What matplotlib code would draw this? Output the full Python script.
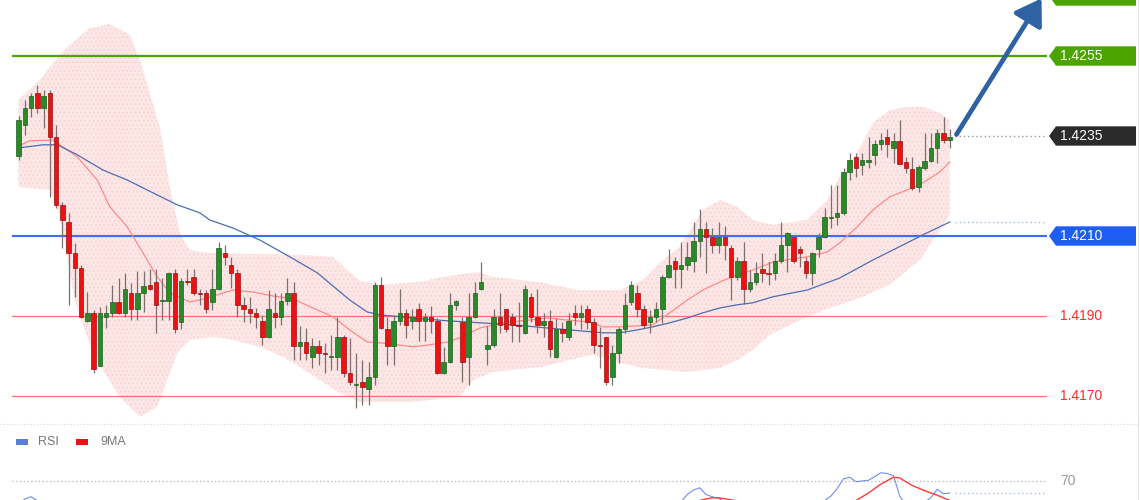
import numpy as np
import matplotlib
matplotlib.use('Agg')
import matplotlib.pyplot as plt
from matplotlib.patches import Rectangle, Polygon, FancyArrowPatch
import matplotlib.transforms as mtransforms

plt.rcParams['font.family'] = ['Liberation Sans', 'DejaVu Sans']

# ---------------- candle data ----------------
opens = [1.42300, 1.42378, 1.42420, 1.42458, 1.42420, 1.42458, 1.42348, 1.42178, 1.42135, 1.42058,
         1.42020, 1.41888, 1.41908, 1.41775, 1.41898, 1.41908, 1.41935, 1.41908, 1.41958, 1.41918,
         1.41958, 1.41978, 1.41985, 1.41938, 1.41938, 1.42008, 1.41885, 1.41988, 1.41998, 1.41958,
         1.41958, 1.41935, 1.41968, 1.42058, 1.42028, 1.42008, 1.41928, 1.41918, 1.41908, 1.41888,
         1.41848, 1.41908, 1.41898, 1.41938, 1.41958, 1.41825, 1.41835, 1.41798, 1.41825, 1.41808,
         1.41798, 1.41798, 1.41848, 1.41758, 1.41728, 1.41735, 1.41718, 1.41748, 1.41978, 1.41868,
         1.41825, 1.41888, 1.41908, 1.41888, 1.41918, 1.41888, 1.41898, 1.41888, 1.41758, 1.41785,
         1.41928, 1.41885, 1.41798, 1.41898, 1.41968, 1.41818, 1.41828, 1.41898, 1.41918, 1.41898,
         1.41878, 1.41858, 1.41948, 1.41898, 1.41878, 1.41888, 1.41798, 1.41868, 1.41848, 1.41908,
         1.41898, 1.41918, 1.41885, 1.41828, 1.41848, 1.41748, 1.41808, 1.41868, 1.41935, 1.41958,
         1.41918, 1.41885, 1.41898, 1.41918, 1.41998, 1.42038, 1.42018, 1.42028, 1.42038, 1.42088,
         1.42118, 1.42098, 1.42078, 1.42098, 1.42070, 1.41998, 1.42038, 1.41968, 1.41985, 1.42018,
         1.42008, 1.42008, 1.42038, 1.42078, 1.42098, 1.42068, 1.42038, 1.42008, 1.42068, 1.42098,
         1.42145, 1.42148, 1.42158, 1.42260, 1.42298, 1.42278, 1.42285, 1.42303, 1.42330, 1.42348,
         1.42320, 1.42338, 1.42285, 1.42268, 1.42223, 1.42270, 1.42288, 1.42320, 1.42358, 1.42340]
highs = [1.42400, 1.42440, 1.42458, 1.42478, 1.42465, 1.42465, 1.42378, 1.42185, 1.42158, 1.42083,
         1.42028, 1.41960, 1.41915, 1.41923, 1.41928, 1.41978, 1.41995, 1.42008, 1.41983, 1.42013,
         1.42013, 1.42018, 1.42018, 1.41995, 1.42010, 1.42018, 1.41995, 1.42018, 1.42018, 1.41968,
         1.41965, 1.42018, 1.42085, 1.42078, 1.42048, 1.42018, 1.41948, 1.41948, 1.41920, 1.41903,
         1.41965, 1.41958, 1.41958, 1.41995, 1.41985, 1.41875, 1.41870, 1.41845, 1.41840, 1.41833,
         1.41853, 1.41898, 1.41853, 1.41845, 1.41808, 1.41790, 1.41785, 1.41985, 1.41998, 1.41898,
         1.41903, 1.41968, 1.41918, 1.41918, 1.41933, 1.41908, 1.41925, 1.41895, 1.41823, 1.41958,
         1.41940, 1.41898, 1.41958, 1.41985, 1.42035, 1.41875, 1.41918, 1.41958, 1.41918, 1.41908,
         1.41935, 1.41978, 1.41958, 1.41968, 1.41908, 1.41915, 1.41895, 1.41885, 1.41908, 1.41928,
         1.41928, 1.41928, 1.41895, 1.41873, 1.41848, 1.41828, 1.41873, 1.41958, 1.41988, 1.41978,
         1.41928, 1.41915, 1.41935, 1.42003, 1.42068, 1.42048, 1.42085, 1.42085, 1.42135, 1.42168,
         1.42135, 1.42120, 1.42135, 1.42125, 1.42078, 1.42048, 1.42085, 1.42015, 1.42035, 1.42058,
         1.42035, 1.42058, 1.42135, 1.42110, 1.42100, 1.42075, 1.42048, 1.42060, 1.42108, 1.42170,
         1.42228, 1.42228, 1.42270, 1.42308, 1.42308, 1.42308, 1.42348, 1.42340, 1.42358, 1.42368,
         1.42358, 1.42390, 1.42298, 1.42298, 1.42278, 1.42358, 1.42358, 1.42368, 1.42398, 1.42368]
lows = [1.42290, 1.42353, 1.42398, 1.42408, 1.42370, 1.42198, 1.42170, 1.42070, 1.41928, 1.41948,
        1.41895, 1.41885, 1.41758, 1.41775, 1.41870, 1.41898, 1.41905, 1.41898, 1.41890, 1.41890,
        1.41910, 1.41965, 1.41858, 1.41890, 1.41890, 1.41858, 1.41868, 1.41978, 1.41953, 1.41928,
        1.41908, 1.41915, 1.41965, 1.42028, 1.41970, 1.41898, 1.41885, 1.41883, 1.41870, 1.41828,
        1.41845, 1.41870, 1.41878, 1.41928, 1.41790, 1.41790, 1.41790, 1.41770, 1.41778, 1.41758,
        1.41765, 1.41765, 1.41748, 1.41728, 1.41670, 1.41678, 1.41678, 1.41728, 1.41868, 1.41778,
        1.41778, 1.41878, 1.41845, 1.41868, 1.41838, 1.41838, 1.41858, 1.41755, 1.41755, 1.41783,
        1.41915, 1.41735, 1.41728, 1.41895, 1.41965, 1.41778, 1.41823, 1.41858, 1.41860, 1.41835,
        1.41835, 1.41855, 1.41885, 1.41858, 1.41848, 1.41798, 1.41795, 1.41835, 1.41840, 1.41878,
        1.41868, 1.41868, 1.41808, 1.41770, 1.41728, 1.41728, 1.41783, 1.41858, 1.41928, 1.41898,
        1.41870, 1.41858, 1.41885, 1.41883, 1.41995, 1.41970, 1.41970, 1.42015, 1.42010, 1.42048,
        1.42008, 1.42058, 1.42058, 1.42040, 1.41940, 1.41990, 1.41930, 1.41960, 1.41978, 1.41985,
        1.41978, 1.41990, 1.42033, 1.42010, 1.42033, 1.42023, 1.41995, 1.41978, 1.42048, 1.42095,
        1.42120, 1.42128, 1.42153, 1.42240, 1.42248, 1.42253, 1.42270, 1.42278, 1.42315, 1.42298,
        1.42283, 1.42280, 1.42258, 1.42215, 1.42210, 1.42265, 1.42285, 1.42283, 1.42333, 1.42320]
closes = [1.42390, 1.42420, 1.42450, 1.42420, 1.42450, 1.42348, 1.42178, 1.42140, 1.42058, 1.42020,
          1.41898, 1.41908, 1.41768, 1.41908, 1.41908, 1.41935, 1.41908, 1.41968, 1.41918, 1.41958,
          1.41975, 1.41968, 1.41928, 1.41940, 1.42008, 1.41868, 1.41988, 1.41985, 1.41958, 1.41955,
          1.41918, 1.41968, 1.42070, 1.42048, 1.42008, 1.41928, 1.41918, 1.41908, 1.41898, 1.41848,
          1.41918, 1.41898, 1.41938, 1.41958, 1.41825, 1.41835, 1.41808, 1.41825, 1.41808, 1.41805,
          1.41800, 1.41848, 1.41758, 1.41735, 1.41730, 1.41723, 1.41748, 1.41978, 1.41870, 1.41825,
          1.41888, 1.41908, 1.41878, 1.41898, 1.41888, 1.41898, 1.41888, 1.41758, 1.41785, 1.41928,
          1.41938, 1.41785, 1.41898, 1.41958, 1.41985, 1.41828, 1.41898, 1.41878, 1.41868, 1.41878,
          1.41875, 1.41968, 1.41898, 1.41878, 1.41888, 1.41818, 1.41868, 1.41858, 1.41888, 1.41898,
          1.41908, 1.41885, 1.41828, 1.41825, 1.41735, 1.41808, 1.41868, 1.41928, 1.41978, 1.41918,
          1.41878, 1.41898, 1.41918, 1.41998, 1.42028, 1.42018, 1.42028, 1.42048, 1.42088, 1.42118,
          1.42098, 1.42078, 1.42098, 1.42078, 1.41998, 1.42038, 1.41968, 1.41985, 1.42008, 1.42008,
          1.42005, 1.42038, 1.42078, 1.42108, 1.42038, 1.42058, 1.42008, 1.42058, 1.42098, 1.42148,
          1.42148, 1.42158, 1.42260, 1.42290, 1.42270, 1.42290, 1.42290, 1.42330, 1.42340, 1.42330,
          1.42338, 1.42280, 1.42270, 1.42220, 1.42273, 1.42288, 1.42320, 1.42358, 1.42340, 1.42348]

# ---------------- indicators ----------------
ma_fast_idx = [0, 1.8, 5.5, 9.4, 12.6, 14.6, 17.4, 19.9, 22.2, 24.2, 27.4, 29.0, 31.8, 34.3, 37.5,
               40.7, 43.9, 47.1, 50.3, 53.0, 55.8, 57.8, 60.6, 63.1, 65.8, 68.6, 71.1, 73.8, 78.2,
               81.8, 84.6, 87.8, 91.4, 93.5, 96.2, 99.0, 101.5, 104.2, 107.0, 109.5, 112.2, 115.0,
               117.5, 120.7, 126.2, 129.4, 131.4, 134.2, 136.7, 139.4, 142.2, 144.7, 147.4, 149]
ma_fast = [1.42325, 1.42338, 1.42340, 1.42298, 1.42240, 1.42173, 1.42123, 1.42058, 1.41998, 1.41958,
           1.41935, 1.41940, 1.41953, 1.41965, 1.41960, 1.41950, 1.41943, 1.41920, 1.41898, 1.41865,
           1.41835, 1.41833, 1.41828, 1.41823, 1.41828, 1.41835, 1.41848, 1.41870, 1.41885, 1.41890,
           1.41895, 1.41890, 1.41885, 1.41873, 1.41873, 1.41875, 1.41878, 1.41908, 1.41940, 1.41965,
           1.41985, 1.42003, 1.42015, 1.42035, 1.42048, 1.42060, 1.42083, 1.42123, 1.42165, 1.42198,
           1.42215, 1.42233, 1.42260, 1.42285]
ma_slow_idx = [0, 3.9, 6.2, 9.4, 13.5, 17.4, 21.5, 25.4, 29.0, 30.6, 34.3, 38.6, 43.4, 47.8, 53.0,
               55.8, 57.8, 63.1, 68.6, 73.8, 79.1, 84.6, 89.8, 93.5, 96.2, 99.0, 101.5, 104.2, 107.0,
               109.5, 112.2, 115.0, 117.5, 120.7, 126.2, 131.4, 136.7, 142.2, 144.7, 149]
ma_slow = [1.42320, 1.42328, 1.42328, 1.42303, 1.42265, 1.42240, 1.42208, 1.42178, 1.42158, 1.42140,
           1.42120, 1.42090, 1.42048, 1.42008, 1.41940, 1.41910, 1.41903, 1.41895, 1.41888, 1.41883,
           1.41878, 1.41870, 1.41863, 1.41858, 1.41858, 1.41865, 1.41873, 1.41883, 1.41895, 1.41908,
           1.41920, 1.41928, 1.41933, 1.41948, 1.41965, 1.41995, 1.42040, 1.42083, 1.42103, 1.42135]
bb_up_idx = [0, 3.4, 6.6, 8.2, 11.4, 14.6, 17.8, 19.4, 21.0, 22.6, 24.2, 25.8, 27.4, 30.2, 37.0,
             45.0, 50.3, 52.6, 54.6, 57.8, 64.2, 67.9, 73.4, 75.9, 83.9, 89.4, 96.2, 99.9, 102.6,
             105.8, 109.5, 112.2, 115.0, 117.5, 120.7, 126.2, 129.4, 131.4, 134.2, 136.7, 139.4,
             142.2, 144.7, 147.4, 149]
bb_upper = [1.42440, 1.42490, 1.42553, 1.42578, 1.42620, 1.42630, 1.42603, 1.42540, 1.42458, 1.42373,
            1.42223, 1.42108, 1.42065, 1.42058, 1.42055, 1.42053, 1.42048, 1.42015, 1.41988, 1.41978,
            1.41985, 1.41998, 1.42010, 1.41998, 1.41983, 1.41965, 1.41965, 1.41990, 1.42033, 1.42073,
            1.42165, 1.42190, 1.42173, 1.42140, 1.42128, 1.42140, 1.42190, 1.42248, 1.42308, 1.42383,
            1.42415, 1.42423, 1.42423, 1.42408, 1.42390]
bb_lo_idx = [0, 5.0, 6.6, 9.0, 11.4, 13.0, 16.2, 19.4, 22.2, 23.8, 25.4, 27.4, 31.1, 34.3, 38.6,
             42.3, 45.0, 48.2, 51.4, 54.6, 62.6, 70.6, 72.7, 75.9, 83.9, 89.4, 91.9, 96.2, 99.9,
             107.0, 112.2, 115.0, 117.5, 120.2, 125.0, 129.8, 134.6, 139.4, 144.2, 147.4, 149]
bb_lower = [1.42223, 1.42215, 1.42153, 1.41940, 1.41828, 1.41778, 1.41698, 1.41648, 1.41673, 1.41740,
            1.41808, 1.41840, 1.41848, 1.41840, 1.41823, 1.41798, 1.41773, 1.41740, 1.41708, 1.41685,
            1.41685, 1.41698, 1.41740, 1.41760, 1.41773, 1.41795, 1.41803, 1.41783, 1.41770, 1.41760,
            1.41770, 1.41790, 1.41815, 1.41853, 1.41890, 1.41920, 1.41945, 1.41978, 1.42040, 1.42115,
            1.42153]

rsi_idx = [0, 1, 2, 3, 4, 6, 10, 20, 30, 40, 50, 57, 60, 70, 80, 90, 95, 100, 103, 106, 107, 108,
           109, 110, 111, 112, 113, 118, 122, 126, 129, 130, 131, 132, 133, 134, 135, 136, 137, 138,
           139, 140, 141, 142, 143, 144, 145, 146, 147, 148, 149]
rsi = [54, 58, 59.5, 57, 50, 35, 25, 40, 47, 42, 38, 54, 45, 48, 47, 46, 38, 48, 55, 56, 61, 64,
       65.5, 61, 59.5, 58.5, 56, 52, 55, 51, 57, 60, 65, 71.5, 72.5, 69.5, 70, 70.5, 73, 75.5,
       75, 73.5, 60, 54, 50, 52, 56, 59, 64.5, 61.5, 62]
ma9_idx = [0, 20, 40, 60, 80, 100, 105, 107, 109, 110, 111, 112, 114, 118, 125, 130, 134, 136, 138,
           140, 141, 143, 145, 147, 149]
ma9 = [45, 40, 43, 44, 45, 46, 52, 55, 57, 58, 58.8, 58.8, 57.5, 54, 53, 52, 57, 62, 68, 72.5, 72,
       67, 63.5, 60.5, 57]

resistance_levels = [1.4270, 1.4255]
last_price = 1.4235
pivot_level = 1.4210
support_levels = [1.4190, 1.4170]
rsi_level = 70

# ---------------- figure / layout ----------------
W, H = 1140, 500
fig = plt.figure(figsize=(W / 100, H / 100), dpi=100)
fig.patch.set_facecolor('white')

left_px, right_px = 12, 1047
x0_px, step_px = 18.5, 6.25
xlim = ((left_px - x0_px) / step_px, (right_px - x0_px) / step_px)
main_bottom_px = 424

ax = fig.add_axes([left_px / W, (H - main_bottom_px) / H, (right_px - left_px) / W, main_bottom_px / H])
ax.set_xlim(*xlim)
ax.set_ylim(1.4163, 1.4269)
ax.axis('off')

rax = fig.add_axes([left_px / W, (H - 586) / H, (right_px - left_px) / W, 150 / H])
rax.set_xlim(*xlim)
rax.set_ylim(0, 100)
rax.axis('off')

ov = fig.add_axes([0, 0, 1, 1], zorder=10)
ov.set_xlim(0, W)
ov.set_ylim(0, 1)
ov.axis('off')

# Bollinger band
band_x = np.r_[bb_up_idx, bb_lo_idx[::-1]]
band_y = np.r_[bb_upper, bb_lower[::-1]]
plt.rcParams['hatch.color'] = '#f7cfcf'
plt.rcParams['hatch.linewidth'] = 0.6
ax.fill(band_x, band_y, facecolor='#fde6e6', edgecolor='#f7d2d2', lw=0, hatch='....', zorder=1)

# levels
ax.axhline(resistance_levels[1], color='#4ca400', lw=1.6, zorder=2)
ax.axhline(pivot_level, color='#3d6df2', lw=1.5, zorder=2)
for lv in support_levels:
    ax.axhline(lv, color='#ff7373', lw=0.9, zorder=2)

# moving averages
ax.plot(ma_fast_idx, ma_fast, color='#ff8a8a', lw=0.9, zorder=3)
ax.plot(ma_slow_idx, ma_slow, color='#4a6fb0', lw=0.9, zorder=3)

# candles
n = len(closes)
for i in range(n):
    o, h, l, c = opens[i], highs[i], lows[i], closes[i]
    ax.vlines(i, l, h, color='#7a7070', lw=0.9, zorder=4)
    up = c >= o
    fc = '#2a8a2a' if up else '#ee1111'
    ec = '#1d5e1d' if up else '#9a1010'
    bh = max(abs(c - o), 0.000025)
    ax.add_patch(Rectangle((i - 0.36, min(o, c)), 0.72, bh, facecolor=fc, edgecolor=ec, lw=0.5, zorder=5))

# dotted extensions
ax.hlines(last_price, 149.8, xlim[1], colors='#9a9a9a', linestyles=(0, (1, 2)), lw=1, zorder=2)
ax.hlines(ma_slow[-1], 149.8, xlim[1], colors='#a9b8e0', linestyles=(0, (1, 2)), lw=1, zorder=2)

# arrow
bt = mtransforms.blended_transform_factory(ov.transData, ax.transData)
arr = FancyArrowPatch((955, closes[-1]), (1043, 1.42700), transform=bt,
                      arrowstyle='-|>,head_length=7,head_width=4.5', mutation_scale=2.2,
                      color='#2f62a3', lw=3.4, zorder=11, clip_on=False)
ov.add_patch(arr)

# right labels
ppx = (ax.get_ylim()[1] - ax.get_ylim()[0]) / main_bottom_px
def label_box(price, text, color):
    hh = 9.7 * ppx
    verts = [(1049, price), (1056, price + hh), (1136, price + hh), (1136, price - hh), (1056, price - hh)]
    ov.add_patch(Polygon(verts, closed=True, transform=bt, facecolor=color, edgecolor='none', zorder=12,
                         clip_on=False))
    if text:
        ov.text(1060, price, text, transform=bt, color='white', fontsize=10, va='center', ha='left', zorder=13)

label_box(resistance_levels[0], '', '#4ca400')   # box only; its text lies above the picture
label_box(resistance_levels[1], '%.4f' % resistance_levels[1], '#4ca400')
label_box(last_price, '%.4f' % last_price, '#2b2b2b')
label_box(pivot_level, '%.4f' % pivot_level, '#1f5ef5')
for lv in support_levels:
    ov.text(1060, lv, '%.4f' % lv, transform=bt, color='#ff2a2a', fontsize=10, va='center', ha='left')

# separator
sep_y = (H - main_bottom_px) / H
ov.plot([0, W], [sep_y, sep_y], color='#d9d9d9', lw=0.8, ls=(0, (1, 2)))
ov.plot([1137.5, 1137.5], [0, 1], color='#e6e6e6', lw=0.8)

# RSI panel
rax.axhline(rsi_level, color='#b5b5b5', lw=0.9, ls=(0, (1, 2)))
rax.plot(rsi_idx, rsi, color='#6f8fe6', lw=0.8)
rax.plot(ma9_idx, ma9, color='#ff3b3b', lw=1.0)
rax.hlines(rsi[-1], 149.8, xlim[1], colors='#a9bcf0', linestyles=(0, (1, 2)), lw=1)
rt = mtransforms.blended_transform_factory(ov.transData, rax.transData)
ov.text(1060, rsi_level, '70', transform=rt, color='#999999', fontsize=10, va='center', ha='left')

# legend
ly = (H - 442) / H
ov.add_patch(Rectangle((16, ly - 0.006), 12, 0.012, facecolor='#5b7fd6', edgecolor='none'))
ov.text(38, ly, 'RSI', color='#777777', fontsize=9, va='center', ha='left')
ov.add_patch(Rectangle((76, ly - 0.006), 12, 0.012, facecolor='#ee1111', edgecolor='none'))
ov.text(100, ly, '9MA', color='#777777', fontsize=9, va='center', ha='left')

fig.savefig('out.png', dpi=100, facecolor='white')
